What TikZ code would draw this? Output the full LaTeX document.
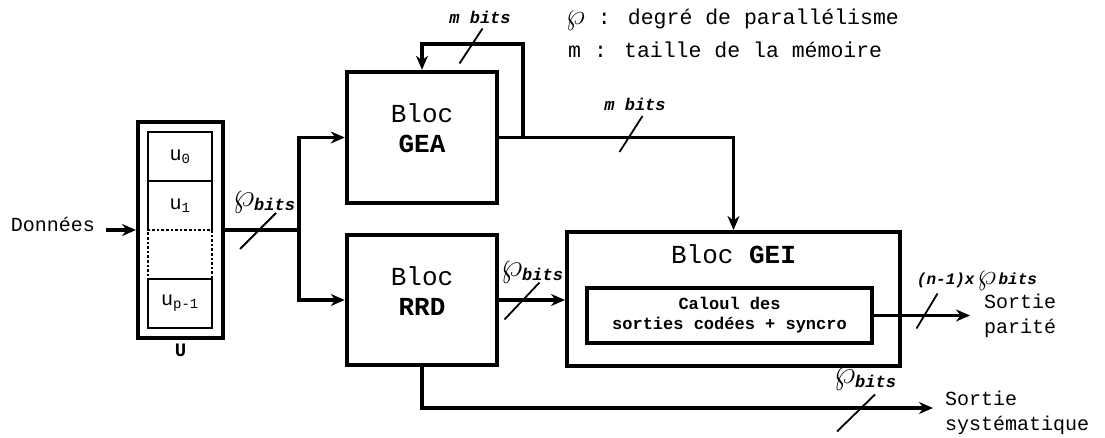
\documentclass[tikz,border=0pt]{standalone}
\usepackage{fix-cm}
\usepackage{fontspec}
\usepackage{tikz}
\usetikzlibrary{positioning,arrows.meta,calc}
\newfontfamily\courf{Liberation Mono}
\newcommand{\bitsf}{\courf\bfseries\itshape\fontsize{17}{20}\selectfont}
\newcommand{\bigwp}{{\fontsize{34}{34}\selectfont$\wp$}}
\newcommand{\wpbits}{\bigwp\raisebox{-4pt}{\bitsf bits}}
\tikzset{
  bloc/.style   ={draw, line width=4.5pt, minimum width=150pt, inner sep=0pt},
  bloctxt/.style={align=center, inner sep=0pt, font=\courf\fontsize{26}{30}\selectfont},
  cell/.style   ={draw, line width=2.6pt, minimum width=64pt, minimum height=49pt,
                  inner sep=0pt, outer sep=0pt, font=\courf\fontsize{20}{24}\selectfont},
  wire/.style   ={line width=3.2pt},
  feed/.style   ={wire, -{Stealth[length=14pt,width=12pt]}},
  tick/.style   ={line width=1.8pt},
  bitslbl/.style={font=\bitsf, inner sep=0pt},
  outlbl/.style ={align=left, anchor=west, inner sep=0pt, font=\courf\fontsize{20}{25}\selectfont},
  legend/.style ={anchor=west, inner sep=0pt, font=\courf\fontsize{21.5}{26}\selectfont},
}

\begin{document}
\begin{tikzpicture}[x=1pt,y=-1pt]
  \useasboundingbox (0,0) rectangle (1105,438);
  % memoire d'entree U
  \node[draw, line width=4pt, minimum width=85pt, minimum height=216pt] (U) at (180.5,230) {};
  \node[cell] (c0) at (180,156.5) {u\textsubscript{0}};
  \node[cell, draw=none, below=0pt of c0] (c1) {u\textsubscript{1}};
  \node[cell, dotted, below=0pt of c1] (c2) {};
  \node[cell, below=0pt of c2] (c3) {u\textsubscript{p-1}};
  \draw[line width=2.6pt] (c1.south west) -- (c1.north west) -- (c1.north east) -- (c1.south east);
  \node[below=4pt of U, inner sep=0pt, font=\courf\bfseries\fontsize{19}{22}\selectfont] (ulab) {U};
  \node[inner sep=0pt, font=\courf\fontsize{20}{24}\selectfont] (din) at (53,224) {Données};
  \draw[feed] ([xshift=11pt]din.east |- U) -- (U);

  % blocs
  \node[bloc, minimum height=131pt] (gea) at (422,137.5) {};
  \node[bloctxt] (geat) at ([yshift=9pt]gea.center) {Bloc\\\textbf{GEA}};
  \node[bloc, minimum height=130pt] (rrd) at (422,300) {};
  \node[bloctxt] (rrdt) at ([yshift=9pt]rrd.center) {Bloc\\\textbf{RRD}};
  \node[bloc, line width=4pt, minimum width=333pt, minimum height=134pt] (gei) at (733.5,299) {};
  \node[bloctxt] (geit) at (733.5,254) {Bloc \textbf{GEI}};
  \node[draw, line width=3.5pt, minimum width=285pt, minimum height=55pt, align=center,
        inner sep=0pt, font=\courf\bfseries\fontsize{17}{20}\selectfont] (calc) at (729.5,315.5)
        {Caloul des\\sorties codées + syncro};

  % liaisons
  \coordinate (split) at (299,230);
  \draw[wire] (U) -- (split);
  \draw[feed] (split) |- (gea);
  \draw[feed] (split) |- (rrd);
  \draw[feed] (gea.east) -| (gei.north);
  \coordinate (fbtap) at (523,137.5);
  \coordinate (fbtop) at (523,44);
  \draw[feed] (fbtap) -- (fbtop) -| (gea.north);
  \draw[feed] (rrd.east) -- (rrd.east -| gei.west);
  \coordinate (parend) at (970,315.5);
  \draw[feed] (calc.east) -- (parend);
  \coordinate (sysend) at (933,408);
  \draw[feed] (rrd.south) |- (sysend);

  % marques de bus
  \foreach \cx/\cy/\hx/\hy in {258/231/18/18, 471/46/11.5/17.5, 631/134/11.5/18,
                               522/301/17.5/18.5, 927/311/10.5/17.5, 856/413/19/18.5}
    \draw[tick] (\cx,\cy) ++(-\hx,\hy) -- ++(2*\hx,-2*\hy);

  % etiquettes
  \node[bitslbl] (bu) at (264,202) {\wpbits};
  \node[bitslbl] (bfb) at (480,17) {m bits};
  \node[bitslbl] (bgea) at (635,104) {m bits};
  \node[bitslbl] (brrd) at (532,272) {\wpbits};
  \node[bitslbl] (bsys) at (865,379) {\wpbits};
  \node[bitslbl, font=\courf\bfseries\itshape\fontsize{16}{18}\selectfont] (bpar) at (977,281)
        {(n-1)x\,{\fontsize{30}{30}\selectfont$\wp$}\,bits};
  \node[outlbl] (parl) at ([xshift=14pt]parend) {Sortie\\parité};
  \node[outlbl] (sysl) at ([xshift=12pt,yshift=-5pt]sysend) {Sortie\\systématique};

  % legende
  \node[legend] (leg1) at (566,20) {{\fontsize{30}{30}\selectfont$\wp$} : degré de parallélisme};
  \node[legend] (leg2) at (568,50) {m : taille de la mémoire};
\end{tikzpicture}
\end{document}
